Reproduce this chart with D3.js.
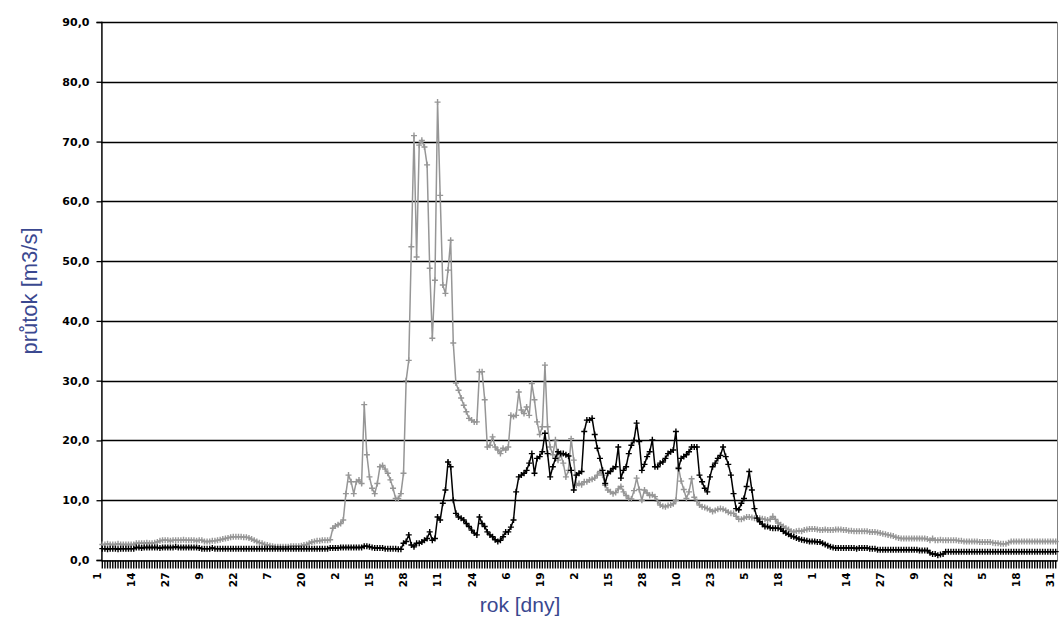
<!DOCTYPE html>
<html>
<head>
<meta charset="utf-8">
<script src="https://cdn.jsdelivr.net/npm/d3@7"></script>
<style>
  html, body { margin: 0; padding: 0; background: #fff; }
  svg { display: block; }
  .tick text { font-family: "DejaVu Sans", sans-serif; font-weight: bold; fill: #000; }
  .y-axis .tick text { font-size: 11px; }
  .x-labels .tick text { font-size: 10.5px; }
  .title { font-family: "Liberation Sans", Arial, sans-serif; fill: #3a4890; }
</style>
</head>
<body>
<svg id="chart" width="1063" height="632"></svg>
<script>
// Daily discharge [m3/s] for the two series, one value per day of the year
const seriesGray = [
  2.6,2.6,2.7,2.6,2.6,2.6,2.7,2.6,2.6,2.6,
  2.6,2.6,2.6,2.8,2.8,2.8,2.8,2.9,2.8,2.8,
  2.9,3.0,3.2,3.3,3.3,3.3,3.2,3.3,3.3,3.3,
  3.3,3.4,3.3,3.3,3.3,3.3,3.2,3.3,3.3,3.1,
  3.1,3.1,3.2,3.2,3.3,3.4,3.5,3.6,3.7,3.8,
  3.9,3.9,3.9,3.9,3.8,3.8,3.7,3.5,3.3,3.1,
  2.9,2.8,2.6,2.5,2.4,2.3,2.2,2.2,2.2,2.2,
  2.2,2.2,2.3,2.3,2.3,2.3,2.4,2.5,2.6,2.8,
  3.0,3.1,3.2,3.2,3.3,3.3,3.3,3.4,5.3,5.7,
  5.9,6.1,6.7,11.1,14.2,13.1,11.1,13.1,13.4,12.8,
  26.0,17.6,13.9,12.0,11.1,12.8,15.6,15.8,15.2,14.5,
  13.4,12.0,10.3,10.3,11.1,14.5,30.0,33.4,52.4,71.0,
  50.7,69.4,70.2,69.1,66.1,48.8,37.1,46.8,76.6,61.0,
  46.0,44.6,48.5,53.5,36.3,29.6,28.4,27.1,25.9,24.8,
  23.7,23.4,23.1,23.1,31.5,31.5,26.8,18.9,19.2,20.6,
  18.9,18.4,17.8,18.7,18.4,18.9,24.2,24.0,24.2,28.1,
  25.1,24.5,25.6,24.2,29.5,26.8,23.1,21.0,22.3,32.6,
  22.3,18.9,17.6,20.1,16.7,17.6,16.2,13.9,15.0,20.3,
  16.7,12.5,12.8,12.6,13.1,13.1,13.4,13.5,13.7,14.2,
  14.8,14.2,12.5,11.7,11.4,11.1,11.3,11.9,12.3,11.4,
  10.8,10.3,10.2,11.6,13.7,11.8,10.0,11.7,11.2,10.8,
  10.9,10.6,9.8,9.2,9.0,8.9,9.1,9.2,9.4,10.0,
  15.5,13.2,11.8,10.3,11.4,13.6,10.5,9.8,9.2,8.9,
  8.8,8.6,8.4,8.1,8.3,8.5,8.6,8.5,8.3,8.0,
  7.8,7.8,7.3,6.8,6.8,7.0,7.2,7.2,7.1,7.0,
  7.0,7.0,6.9,6.8,6.7,6.8,7.3,6.8,6.2,5.9,
  5.6,5.3,5.1,4.8,4.7,4.8,4.9,4.8,5.0,5.1,
  5.2,5.2,5.2,5.1,5.0,5.0,5.1,5.0,5.0,5.0,
  5.1,5.1,5.1,5.0,5.0,4.9,4.9,4.8,4.8,4.8,
  4.8,4.8,4.8,4.7,4.7,4.7,4.6,4.5,4.4,4.3,
  4.2,4.1,4.0,3.8,3.7,3.6,3.6,3.6,3.6,3.6,
  3.6,3.6,3.6,3.6,3.6,3.5,3.3,3.6,3.3,3.3,
  3.4,3.3,3.3,3.3,3.3,3.3,3.3,3.2,3.2,3.1,
  3.1,3.1,3.1,3.1,3.1,3.0,3.0,3.0,3.0,3.0,
  2.9,2.8,2.8,2.7,2.7,2.7,2.9,3.1,3.1,3.1,
  3.1,3.1,3.1,3.1,3.1,3.1,3.1,3.1,3.1,3.1,
  3.1,3.1,3.1,3.1,3.1
];

const seriesBlack = [
  1.9,1.9,1.8,1.9,1.9,1.9,1.8,1.9,1.9,1.9,
  1.9,1.9,1.9,2.1,2.1,2.0,2.1,2.1,2.1,2.1,
  2.1,2.1,2.0,2.1,2.1,2.1,2.1,2.1,2.2,2.1,
  2.1,2.1,2.1,2.1,2.1,2.1,2.1,2.0,1.9,1.9,
  1.9,1.9,2.0,1.9,1.9,1.9,1.9,1.9,1.9,1.9,
  1.9,1.9,1.9,1.9,1.9,1.9,1.9,1.9,1.9,1.9,
  1.9,1.9,1.9,1.9,1.9,1.9,1.9,1.9,1.9,1.9,
  1.9,1.9,1.9,1.9,1.9,1.9,1.9,1.9,1.9,1.9,
  1.9,1.9,1.9,1.9,1.9,1.9,1.9,2.0,2.0,2.0,
  2.0,2.1,2.1,2.1,2.1,2.1,2.1,2.1,2.1,2.1,
  2.3,2.3,2.2,2.1,2.0,2.0,2.0,2.0,1.9,1.9,
  1.9,1.9,1.9,1.8,1.8,2.8,3.1,4.2,2.5,2.2,
  2.8,2.8,3.0,3.3,3.6,4.7,3.3,3.6,7.2,6.7,
  9.5,11.7,16.4,15.6,10.0,7.8,7.2,7.0,6.7,6.1,
  5.6,5.0,4.5,4.2,7.2,6.1,5.6,4.7,4.2,3.9,
  3.4,3.1,3.3,3.9,4.7,4.7,5.5,6.7,11.4,13.9,
  14.2,14.5,15.0,16.2,17.8,14.5,17.0,17.3,18.1,21.2,
  17.8,13.9,15.6,17.0,18.1,17.8,17.8,17.6,17.4,15.0,
  11.7,14.2,14.5,14.8,21.5,23.4,23.4,23.7,21.0,18.7,
  17.0,15.0,12.8,14.5,14.8,15.3,15.6,18.9,13.7,15.0,
  15.6,17.8,19.2,20.0,22.9,19.8,15.0,16.0,17.3,18.1,
  20.1,15.6,15.6,16.2,16.4,17.0,17.8,18.1,18.4,21.5,
  15.3,17.0,17.3,17.6,18.1,18.9,18.9,18.9,14.2,13.1,
  12.0,11.4,13.9,15.6,16.2,17.0,17.5,18.9,17.3,16.0,
  14.2,11.1,8.6,8.4,9.5,10.3,12.3,14.8,11.7,8.6,
  7.0,6.4,6.0,5.6,5.6,5.4,5.3,5.3,5.3,5.2,
  4.8,4.5,4.3,4.0,3.9,3.7,3.5,3.4,3.3,3.2,
  3.1,3.1,3.1,3.0,3.0,2.8,2.6,2.4,2.2,2.1,
  2.0,2.0,2.0,2.0,2.0,2.0,2.0,2.0,1.9,2.0,
  2.0,2.0,2.0,1.9,1.9,1.9,1.7,1.7,1.7,1.7,
  1.7,1.7,1.7,1.7,1.7,1.7,1.7,1.7,1.7,1.7,
  1.7,1.7,1.6,1.6,1.6,1.6,1.2,1.0,1.0,0.8,
  0.9,1.0,1.4,1.4,1.4,1.4,1.4,1.4,1.4,1.4,
  1.4,1.4,1.4,1.4,1.4,1.4,1.4,1.4,1.4,1.4,
  1.4,1.4,1.4,1.4,1.4,1.4,1.4,1.4,1.4,1.4,
  1.4,1.4,1.4,1.4,1.4,1.4,1.4,1.4,1.4,1.4,
  1.4,1.4,1.4,1.4,1.4
];

// Day-of-month labels shown every 13th day
const dayLabels = ["1","14","27","9","22","7","20","2","15","28","11","24","6","19","2",
                   "15","28","10","23","5","18","1","14","27","9","22","5","18","31"];
const labelStep = 13;
const yTicks = [0, 10, 20, 30, 40, 50, 60, 70, 80, 90];
const yTitle = "průtok [m3/s]";
const xTitle = "rok [dny]";

const svg = d3.select("#chart");
const W = 1063, H = 632;
const plot = { left: 101, right: 1057, top: 22, bottom: 560 };

svg.append("rect").attr("width", W).attr("height", H).attr("fill", "#fff");

const nDays = seriesGray.length;
const x = d3.scaleBand().domain(d3.range(nDays)).range([plot.left, plot.right]).paddingInner(0).paddingOuter(0);
const cx = i => x(i) + x.bandwidth() / 2;
const y = d3.scaleLinear().domain([0, 90]).range([plot.bottom, plot.top]);

// plot area frame
svg.append("rect")
  .attr("x", plot.left).attr("y", plot.top)
  .attr("width", plot.right - plot.left).attr("height", plot.bottom - plot.top)
  .attr("fill", "none").attr("stroke", "#808080").attr("stroke-width", 1)
  .attr("shape-rendering", "crispEdges");

// horizontal gridlines
svg.append("g").selectAll("line").data(yTicks.filter(v => v > 0)).join("line")
  .attr("x1", plot.left).attr("x2", plot.right)
  .attr("y1", d => Math.round(y(d)) + 0.5).attr("y2", d => Math.round(y(d)) + 0.5)
  .attr("stroke", "#000").attr("stroke-width", 1.3);

// y axis
const yAxis = svg.append("g").attr("class", "y-axis").attr("transform", `translate(${plot.left + 0.5},0)`)
  .call(d3.axisLeft(y).tickValues(yTicks).tickSize(5).tickPadding(7)
    .tickFormat(d => d3.format(".1f")(d).replace(".", ",")));
yAxis.select(".domain").attr("stroke", "#000").attr("stroke-width", 1.3);
yAxis.selectAll(".tick line").attr("stroke", "#000").attr("stroke-width", 1.3);

// x axis: a tick for every day
const xAxis = svg.append("g").attr("transform", `translate(0,${plot.bottom + 0.5})`)
  .call(d3.axisBottom(x).tickValues(d3.range(nDays)).tickSize(8).tickSizeOuter(0).tickFormat(""));
xAxis.select(".domain").attr("stroke", "#000").attr("stroke-width", 1.3);
xAxis.selectAll(".tick line").attr("stroke", "#000").attr("stroke-width", 1.4);

// x labels, rotated
const labelIdx = dayLabels.map((_, k) => k * labelStep);
const xLab = svg.append("g").attr("class", "x-labels").attr("transform", `translate(-5,${plot.bottom + 0.5})`)
  .call(d3.axisBottom(x).tickValues(labelIdx).tickSize(0)
    .tickFormat((d, k) => dayLabels[k]));
xLab.select(".domain").remove();
xLab.selectAll(".tick text")
  .attr("transform", "rotate(-90)")
  .attr("text-anchor", "end")
  .attr("x", -12).attr("y", 0).attr("dy", "0.35em");

// series
const line = d3.line().x((d, i) => cx(i)).y(d => y(d));
const plus = "M-3,0H3M0,-3V3";

function drawSeries(values, color) {
  const g = svg.append("g");
  g.append("path").datum(values).attr("d", line)
    .attr("fill", "none").attr("stroke", color).attr("stroke-width", 1.5);
  g.selectAll("path.m").data(values).join("path").attr("class", "m")
    .attr("d", plus)
    .attr("transform", (d, i) => `translate(${cx(i)},${y(d)})`)
    .attr("fill", "none").attr("stroke", color).attr("stroke-width", 1.4);
}
drawSeries(seriesGray, "#969696");
drawSeries(seriesBlack, "#000000");

// axis titles
svg.append("text").attr("class", "title").style("font-size", "22px")
  .attr("transform", `translate(37,${(plot.top + plot.bottom) / 2}) rotate(-90)`)
  .attr("text-anchor", "middle").text(yTitle);
svg.append("text").attr("class", "title").style("font-size", "21px")
  .attr("x", 520).attr("y", 612).attr("text-anchor", "middle").text(xTitle);
</script>
</body>
</html>
